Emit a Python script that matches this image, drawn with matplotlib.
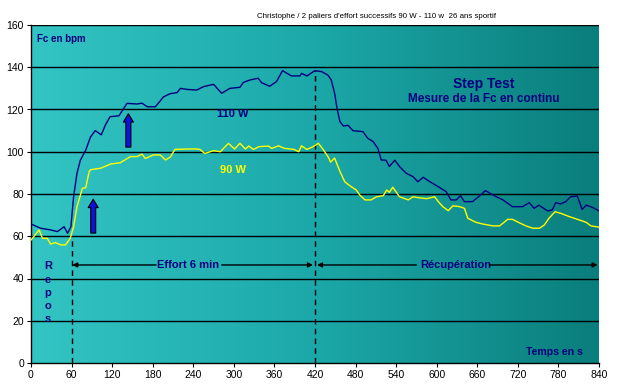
import numpy as np
import matplotlib
matplotlib.use("Agg")
import matplotlib.pyplot as plt
from matplotlib.colors import LinearSegmentedColormap

plt.rcParams["font.family"] = ["Liberation Sans", "DejaVu Sans"]

# ---- data (time in s, heart rate in bpm) ----
t_110 = [0, 14, 29, 39, 49, 54, 59, 63, 68, 73, 81, 88, 95, 104, 110, 117, 130, 142, 157,
         164, 172, 184, 196, 206, 216, 221, 231, 245, 255, 270, 282, 294, 309, 314, 324,
         336, 341, 353, 363, 372, 385, 398, 400, 408, 420, 430, 439, 444, 449, 453, 457,
         462, 469, 476, 491, 498, 506, 513, 518, 525, 530, 538, 545, 555, 565, 572, 580,
         590, 602, 614, 621, 629, 635, 641, 653, 663, 672, 685, 698, 712, 727, 737, 744,
         751, 764, 771, 776, 783, 791, 798, 808, 815, 821, 830, 840]
hr_110 = [65.8, 63.8, 63.0, 62.2, 64.5, 61.4, 64.5, 78.7, 89.8, 96.0, 100.8, 107.0, 110.0,
          108.0, 112.7, 116.6, 117.0, 122.9, 122.6, 123.0, 121.3, 121.3, 126.0, 127.5,
          128.0, 130.0, 129.5, 129.2, 130.8, 131.9, 127.7, 130.0, 130.5, 132.8, 134.0,
          134.8, 132.7, 131.0, 133.2, 138.4, 135.9, 135.9, 137.1, 135.9, 138.4, 137.9,
          136.3, 134.0, 127.7, 119.8, 114.2, 112.2, 112.5, 110.0, 109.5, 106.4, 104.8,
          101.6, 96.1, 96.0, 93.0, 96.0, 93.0, 89.8, 88.2, 85.8, 87.9, 85.8, 83.5, 81.1,
          77.2, 77.2, 79.2, 76.4, 76.4, 79.0, 81.6, 79.2, 77.2, 74.0, 74.0, 75.9, 73.2,
          74.7, 72.0, 72.5, 75.9, 75.3, 76.4, 78.7, 79.0, 72.7, 74.7, 73.7, 72.0]

t_90 = [0, 12, 17, 24, 29, 36, 44, 51, 58, 63, 68, 76, 81, 86, 88, 103, 118, 132, 147,
        157, 164, 169, 181, 191, 199, 206, 213, 231, 245, 250, 257, 270, 280, 292, 301,
        309, 317, 322, 329, 337, 351, 356, 366, 375, 389, 396, 400, 408, 417, 425, 432,
        440, 443, 449, 457, 464, 472, 481, 486, 494, 503, 511, 521, 526, 530, 535, 545,
        558, 565, 572, 585, 597, 602, 609, 617, 624, 634, 641, 646, 658, 668, 683, 693,
        705, 712, 722, 732, 742, 752, 759, 766, 775, 784, 796, 811, 821, 828, 840]
hr_90 = [58.2, 63.0, 59.0, 59.0, 56.3, 57.0, 55.9, 55.9, 59.0, 64.5, 74.0, 82.7, 83.0,
         90.6, 91.5, 92.2, 94.2, 94.8, 97.7, 97.7, 98.9, 96.8, 98.5, 98.5, 96.1, 97.5,
         101.1, 101.3, 101.3, 101.1, 99.2, 100.5, 100.0, 104.0, 101.3, 104.0, 101.3,
         102.7, 101.1, 102.4, 102.7, 101.6, 102.8, 101.6, 101.1, 100.0, 102.8, 101.1,
         102.4, 104.0, 101.1, 97.3, 95.1, 97.0, 90.6, 85.8, 83.8, 81.9, 79.6, 77.2, 77.2,
         78.7, 79.2, 81.9, 80.8, 83.2, 78.7, 77.2, 78.7, 78.3, 77.8, 78.7, 76.5, 74.0,
         72.1, 74.4, 74.0, 73.2, 68.5, 66.6, 65.8, 64.9, 64.9, 68.0, 68.0, 66.4, 64.9,
         63.8, 63.8, 65.3, 68.5, 71.6, 70.8, 69.3, 67.7, 66.6, 64.9, 64.3]

x_ticks = list(range(0, 841, 60))
y_ticks = list(range(0, 161, 20))

navy = "#000080"
yellow = "#ffff00"

fig = plt.figure(figsize=(6.2, 3.9), dpi=100)
ax = fig.add_axes([31 / 620, 1 - 363 / 390, 568 / 620, 338 / 390])

# gradient background
cmap = LinearSegmentedColormap.from_list("bg", ["#33c4c4", "#1ca8a8", "#0a7e7c"])
grad = np.linspace(0, 1, 256).reshape(1, -1)
ax.imshow(grad, cmap=cmap, aspect="auto", extent=[0, 840, 0, 160], zorder=0)

ax.set_xlim(0, 840)
ax.set_ylim(0, 160)
ax.set_xticks(x_ticks)
ax.set_yticks(y_ticks)
ax.tick_params(labelsize=7.5, length=3, direction="out", color="black", pad=2)
for yv in y_ticks[1:]:
    ax.axhline(yv, color="black", lw=1.0, zorder=1)
for s in ["top", "right"]:
    ax.spines[s].set_visible(False)
ax.spines["left"].set_linewidth(1)
ax.spines["bottom"].set_linewidth(1)

ax.plot(t_110, hr_110, color=navy, lw=1.0, zorder=3)
ax.plot(t_90, hr_90, color=yellow, lw=1.0, zorder=3)

# dashed markers
ax.plot([60, 60], [0, 60], color="black", lw=1, ls=(0, (4, 3)), zorder=2)
ax.plot([420, 420], [0, 138.5], color="black", lw=1, ls=(0, (4, 3)), zorder=2)

# phase arrows
ya = 46.4
arrowkw = dict(arrowstyle="-|>", color="black", lw=1, mutation_scale=7, shrinkA=0, shrinkB=0)
ax.annotate("", xy=(61, ya), xytext=(185, ya), arrowprops=arrowkw, zorder=4)
ax.annotate("", xy=(417, ya), xytext=(282, ya), arrowprops=arrowkw, zorder=4)
ax.annotate("", xy=(423, ya), xytext=(570, ya), arrowprops=arrowkw, zorder=4)
ax.annotate("", xy=(838, ya), xytext=(678, ya), arrowprops=arrowkw, zorder=4)
bold = dict(color=navy, fontweight="bold", fontsize=8)
ax.text(233, ya, "Effort 6 min", ha="center", va="center", **bold)
ax.text(628, ya, "Récupération", ha="center", va="center", **bold)

# Repos vertical letters
for ch, yy in zip("Repos", [46.0, 39.5, 33.3, 27.0, 21.0]):
    ax.text(25, yy, ch, ha="center", va="center", **bold)

# blue up arrows
upkw = dict(arrowstyle="simple,head_length=0.5,head_width=0.6,tail_width=0.3",
            fc="#1010e0", ec="black", lw=0.8, mutation_scale=12, shrinkA=0, shrinkB=0)
ax.annotate("", xy=(92, 77.5), xytext=(92, 61.5), arrowprops=upkw, zorder=5)
ax.annotate("", xy=(144, 118), xytext=(144, 102.2), arrowprops=upkw, zorder=5)

# labels
ax.text(8.5, 153.5, "Fc en bpm", ha="left", va="center", color=navy, fontweight="bold", fontsize=7)
ax.text(816, 5, "Temps en s", ha="right", va="center", color=navy, fontweight="bold", fontsize=7.6)
ax.text(298, 117.8, "110 W", ha="center", va="center", **bold)
ax.text(298, 91.4, "90 W", ha="center", va="center", color=yellow, fontweight="bold", fontsize=8)
ax.text(670, 132.3, "Step Test", ha="center", va="center", color=navy, fontweight="bold", fontsize=10)
ax.text(670, 124.8, "Mesure de la Fc en continu", ha="center", va="center", color=navy,
        fontweight="bold", fontsize=8.5)

fig.text(496 / 620, 1 - 17 / 390, "Christophe / 2 paliers d'effort successifs 90 W - 110 w  26 ans sportif",
         ha="right", va="center", fontsize=5.7, color="black")

fig.savefig("out.png", dpi=100)
